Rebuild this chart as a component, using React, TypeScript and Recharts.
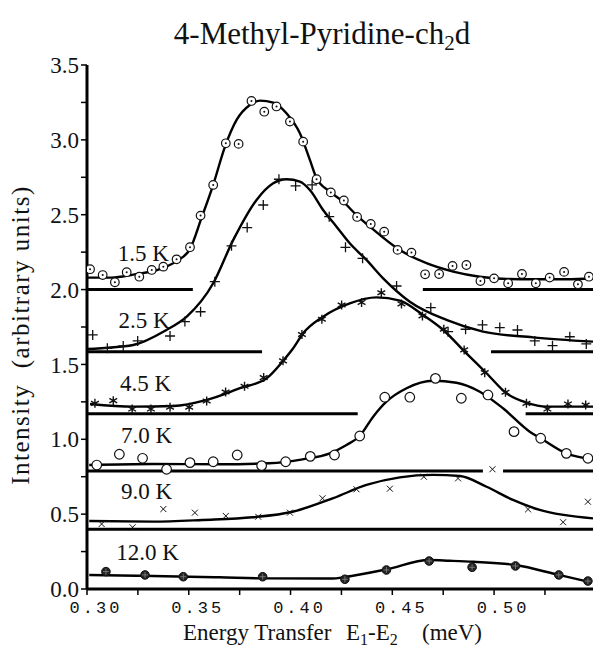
import React from "react";
import {
  ComposedChart,
  Line,
  Scatter,
  XAxis,
  YAxis,
  ReferenceLine,
  ReferenceDot,
} from "recharts";

type P = [number, number];

// measured points [energy transfer meV, intensity], one list per temperature
const pts15: P[] = [
  [0.3015, 2.136], [0.3077, 2.097], [0.3137, 2.049], [0.3195, 2.116], [0.3257, 2.086],
  [0.3318, 2.131], [0.3375, 2.153], [0.344, 2.202], [0.3506, 2.283], [0.3558, 2.494],
  [0.362, 2.699], [0.3682, 2.977], [0.3745, 2.973], [0.3808, 3.26], [0.3871, 3.188],
  [0.3931, 3.223], [0.3997, 3.122], [0.4062, 2.988], [0.4128, 2.737], [0.4198, 2.649],
  [0.4262, 2.595], [0.4327, 2.485], [0.4394, 2.438], [0.446, 2.387], [0.4526, 2.265],
  [0.4594, 2.247], [0.4661, 2.102], [0.473, 2.104], [0.4796, 2.158], [0.4864, 2.164],
  [0.4933, 2.057], [0.5, 2.075], [0.5069, 2.042], [0.5137, 2.104], [0.5205, 2.042],
  [0.5273, 2.08], [0.5344, 2.118], [0.5412, 2.035], [0.5466, 2.086],
];
const pts25: P[] = [
  [0.3028, 1.697], [0.31, 1.608], [0.3178, 1.623], [0.3249, 1.657], [0.3408, 1.69],
  [0.3481, 1.786], [0.3558, 1.852], [0.3628, 2.053], [0.371, 2.292], [0.3787, 2.414],
  [0.3866, 2.565], [0.3943, 2.737], [0.4025, 2.692], [0.4106, 2.699], [0.419, 2.487],
  [0.427, 2.282], [0.4354, 2.209], [0.4521, 2.024], [0.4689, 1.879], [0.4774, 1.719],
  [0.486, 1.735], [0.4943, 1.764], [0.5028, 1.746], [0.5115, 1.73], [0.52, 1.657],
  [0.5287, 1.625], [0.5372, 1.685], [0.5453, 1.637],
];
const pts45: P[] = [
  [0.3039, 1.24], [0.3129, 1.258], [0.3222, 1.202], [0.3314, 1.202], [0.3408, 1.214],
  [0.3502, 1.214], [0.3588, 1.256], [0.3681, 1.316], [0.3774, 1.354], [0.3868, 1.412],
  [0.3963, 1.524], [0.4056, 1.7], [0.4154, 1.802], [0.4251, 1.897], [0.4349, 1.914],
  [0.4446, 1.979], [0.4545, 1.904], [0.4648, 1.824], [0.4753, 1.735], [0.4853, 1.597],
  [0.4954, 1.445], [0.5056, 1.314], [0.5159, 1.24], [0.5262, 1.202], [0.5363, 1.236],
  [0.545, 1.229],
];
const pts70: P[] = [
  [0.3048, 0.828], [0.3159, 0.9], [0.3273, 0.873], [0.3391, 0.8], [0.3506, 0.844],
  [0.362, 0.85], [0.3738, 0.895], [0.3858, 0.824], [0.3976, 0.85], [0.4097, 0.886],
  [0.4216, 0.895], [0.434, 1.022], [0.4463, 1.281], [0.4586, 1.281], [0.4712, 1.407],
  [0.4839, 1.274], [0.497, 1.296], [0.5098, 1.051], [0.5229, 1.007], [0.5355, 0.906],
  [0.5461, 0.873],
];
const pts90: P[] = [
  [0.3072, 0.434], [0.3224, 0.412], [0.3375, 0.534], [0.353, 0.51], [0.3682, 0.488],
  [0.3841, 0.483], [0.3997, 0.51], [0.4157, 0.606], [0.4324, 0.666], [0.4488, 0.67],
  [0.4655, 0.75], [0.4823, 0.739], [0.4992, 0.8], [0.5167, 0.532], [0.5339, 0.446],
  [0.5461, 0.583],
];
const pts120: P[] = [
  [0.3093, 0.116], [0.3285, 0.094], [0.3473, 0.082], [0.3863, 0.082], [0.4267, 0.065],
  [0.4471, 0.127], [0.4681, 0.187], [0.4892, 0.145], [0.5105, 0.154], [0.5318, 0.094],
  [0.5461, 0.053],
];

// fitted curves
const fit15: P[] = [
  [0.3, 2.08], [0.312, 2.08], [0.3227, 2.1], [0.3358, 2.136], [0.344, 2.19], [0.3506, 2.27],
  [0.3563, 2.48], [0.362, 2.7], [0.3678, 2.955], [0.3735, 3.133], [0.38, 3.233],
  [0.385, 3.262], [0.3915, 3.249], [0.398, 3.178], [0.4046, 3.044], [0.4095, 2.866],
  [0.4128, 2.743], [0.4193, 2.654], [0.4258, 2.587], [0.4324, 2.498], [0.439, 2.42],
  [0.4537, 2.264], [0.4668, 2.176], [0.4799, 2.12], [0.493, 2.086], [0.5061, 2.071],
  [0.5191, 2.069], [0.5355, 2.069], [0.5486, 2.076],
];
const fit25: P[] = [
  [0.3, 1.603], [0.3227, 1.63], [0.339, 1.73], [0.349, 1.819], [0.362, 2.042],
  [0.3718, 2.33], [0.3833, 2.599], [0.3915, 2.71], [0.398, 2.737], [0.4046, 2.721],
  [0.4095, 2.665], [0.416, 2.532], [0.4226, 2.42], [0.4291, 2.309], [0.4373, 2.198],
  [0.4455, 2.075], [0.4586, 1.919], [0.4766, 1.797], [0.4946, 1.719], [0.5191, 1.681],
  [0.5486, 1.652],
];
const fit45: P[] = [
  [0.3015, 1.236], [0.3227, 1.218], [0.3424, 1.222], [0.3588, 1.263], [0.3751, 1.341],
  [0.3882, 1.407], [0.3964, 1.525], [0.4013, 1.608], [0.4062, 1.708], [0.416, 1.819],
  [0.4291, 1.908], [0.4422, 1.948], [0.4537, 1.926], [0.4651, 1.83], [0.475, 1.73],
  [0.4864, 1.574], [0.4963, 1.441], [0.5061, 1.307], [0.5159, 1.245], [0.5257, 1.218],
  [0.5486, 1.218],
];
const fit70: P[] = [
  [0.3011, 0.828], [0.3323, 0.835], [0.365, 0.833], [0.3895, 0.84], [0.4059, 0.866],
  [0.4193, 0.906], [0.4275, 0.962], [0.434, 1.022], [0.4406, 1.151], [0.4471, 1.251],
  [0.457, 1.341], [0.47, 1.391], [0.4815, 1.378], [0.493, 1.318], [0.5044, 1.207],
  [0.5175, 1.051], [0.5229, 1.007], [0.5355, 0.906], [0.5486, 0.866],
];
const fit90: P[] = [
  [0.3011, 0.454], [0.3323, 0.45], [0.3568, 0.461], [0.3814, 0.479], [0.401, 0.516],
  [0.421, 0.607], [0.4373, 0.695], [0.4537, 0.746], [0.47, 0.762], [0.4832, 0.755],
  [0.4963, 0.683], [0.5093, 0.595], [0.5224, 0.528], [0.5486, 0.472],
];
const fit120: P[] = [
  [0.3011, 0.094], [0.3323, 0.087], [0.365, 0.078], [0.3887, 0.071], [0.4206, 0.07],
  [0.4267, 0.08], [0.4471, 0.131], [0.4681, 0.194], [0.4782, 0.189], [0.4897, 0.182],
  [0.5105, 0.16], [0.5318, 0.094], [0.5461, 0.049],
];

// zero-intensity baseline of each shifted spectrum, drawn in pieces
const baseLevels = [2.0, 1.585, 1.17, 0.788, 0.399];
const baseSpans: P[][] = [
  [[0.3, 0.352], [0.465, 0.5486]],
  [[0.3, 0.386], [0.4985, 0.5486]],
  [[0.3, 0.433], [0.5155, 0.5486]],
  [[0.3, 0.4945], [0.5044, 0.5486]],
  [[0.3, 0.5486]],
];

const temps = ["1.5 K", "2.5 K", "4.5 K", "7.0 K", "9.0 K", "12.0 K"];
const tempAnchorX = [0.3277, 0.328, 0.3288, 0.3293, 0.3293, 0.3297];
const tempAnchorY = [2.245, 1.797, 1.378, 1.029, 0.657, 0.245];

const xTicks = [0.3, 0.325, 0.35, 0.375, 0.4, 0.425, 0.45, 0.475, 0.5, 0.525];
const xTickLabels = ["0.30", "0.35", "0.40", "0.45", "0.50"];
const yTicks = [0, 0.25, 0.5, 0.75, 1, 1.25, 1.5, 1.75, 2, 2.25, 2.5, 2.75, 3, 3.25, 3.5];
const yTickLabels = ["0.0", "0.5", "1.0", "1.5", "2.0", "2.5", "3.0", "3.5"];

const serif = "'Liberation Serif', 'Times New Roman', serif";
const mono = "'Liberation Mono', 'DejaVu Sans Mono', monospace";
const ink = "#111";

const toXY = (a: P[]) => a.map(([x, y]) => ({ x, y }));

const DotCircle = ({ cx, cy }: any) => (
  <g>
    <circle cx={cx} cy={cy} r={4.3} fill="#fff" stroke={ink} strokeWidth={1.2} />
    <circle cx={cx} cy={cy} r={1} fill={ink} />
  </g>
);
const PlusMark = ({ cx, cy }: any) => (
  <path d={`M${cx - 5},${cy}H${cx + 5}M${cx},${cy - 5}V${cy + 5}`} stroke={ink} strokeWidth={1.3} />
);
const StarMark = ({ cx, cy }: any) => (
  <path
    d={`M${cx},${cy - 4.5}V${cy + 4.5}M${cx - 3.9},${cy - 2.2}L${cx + 3.9},${cy + 2.2}M${cx - 3.9},${cy + 2.2}L${cx + 3.9},${cy - 2.2}`}
    stroke={ink}
    strokeWidth={1.4}
  />
);
const OpenCircle = ({ cx, cy }: any) => (
  <circle cx={cx} cy={cy} r={4.8} fill="#fff" stroke={ink} strokeWidth={1.2} />
);
const CrossMark = ({ cx, cy }: any) => (
  <path d={`M${cx - 3},${cy - 3}L${cx + 3},${cy + 3}M${cx - 3},${cy + 3}L${cx + 3},${cy - 3}`} stroke={ink} strokeWidth={1} />
);
const FilledCross = ({ cx, cy }: any) => (
  <g>
    <circle cx={cx} cy={cy} r={4.3} fill="#222" stroke={ink} strokeWidth={1} />
    <path d={`M${cx - 3},${cy}H${cx + 3}M${cx},${cy - 3}V${cy + 3}`} stroke="#888" strokeWidth={0.8} />
  </g>
);

const series = [
  { pts: pts15, fit: fit15, shape: DotCircle },
  { pts: pts25, fit: fit25, shape: PlusMark },
  { pts: pts45, fit: fit45, shape: StarMark },
  { pts: pts70, fit: fit70, shape: OpenCircle },
  { pts: pts90, fit: fit90, shape: CrossMark },
  { pts: pts120, fit: fit120, shape: FilledCross },
];

const XTick = (p: any) => {
  const s = Number(p.payload.value).toFixed(2);
  if (!xTickLabels.includes(s)) return null;
  return (
    <text x={p.x + 9} y={p.y + 16} textAnchor="middle" fontFamily={mono} fontSize={17} letterSpacing={3} fill={ink}>
      {s}
    </text>
  );
};

const yFmt = (v: number) => {
  const s = v.toFixed(1);
  return Math.abs(v * 2 - Math.round(v * 2)) < 1e-6 && yTickLabels.includes(s) ? s : "";
};

const axisLine = { stroke: "#000", strokeWidth: 3 };
const tickLine = { stroke: "#000", strokeWidth: 1.5 };
const domainX: [number, number] = [0.3, 0.5486];
const domainY: [number, number] = [0, 3.5];

export default function App() {
  return (
    <div style={{ position: "absolute", left: 0, top: 0, width: 600, height: 656, background: "#fff" }}>
      <ComposedChart width={600} height={656} margin={{ top: 65, right: 7, bottom: 37, left: 0 }}>
        <XAxis
          dataKey="x"
          type="number"
          domain={domainX}
          allowDataOverflow
          ticks={xTicks}
          tick={<XTick />}
          tickSize={6}
          height={30}
          axisLine={axisLine}
          tickLine={tickLine}
        />
        <XAxis
          xAxisId="top"
          orientation="top"
          type="number"
          domain={domainX}
          allowDataOverflow
          ticks={xTicks}
          tick={false}
          tickSize={6}
          height={0}
          axisLine={axisLine}
          tickLine={tickLine}
        />
        <YAxis
          dataKey="y"
          type="number"
          domain={domainY}
          allowDataOverflow
          ticks={yTicks}
          tickFormatter={yFmt}
          tickSize={6}
          width={87}
          axisLine={axisLine}
          tickLine={tickLine}
          tick={{ fill: ink, fontFamily: serif, fontSize: 23 }}
        />
        <YAxis
          yAxisId="right"
          orientation="right"
          type="number"
          domain={domainY}
          allowDataOverflow
          ticks={yTicks}
          tick={false}
          mirror
          tickSize={6}
          width={0}
          axisLine={axisLine}
          tickLine={tickLine}
        />
        {baseLevels.map((lvl, i) =>
          baseSpans[i].map(([a, b], j) => (
            <ReferenceLine
              key={`b${i}-${j}`}
              segment={[{ x: a, y: lvl }, { x: b, y: lvl }]}
              stroke="#000"
              strokeWidth={3}
            />
          ))
        )}
        {series.map((s, i) => (
          <Line
            key={`f${i}`}
            data={toXY(s.fit)}
            dataKey="y"
            type="monotone"
            stroke="#000"
            strokeWidth={2.4}
            dot={false}
            isAnimationActive={false}
          />
        ))}
        {series.map((s, i) => {
          const Shape = s.shape;
          return (
            <Scatter
              key={`p${i}`}
              data={toXY(s.pts)}
              dataKey="y"
              shape={(p: any) => <Shape cx={p.cx} cy={p.cy} />}
              isAnimationActive={false}
            />
          );
        })}
        {temps.map((t, i) => (
          <ReferenceDot
            key={t}
            x={tempAnchorX[i]}
            y={tempAnchorY[i]}
            r={1}
            fill="none"
            stroke="none"
            label={{ value: t, position: "center", fill: ink, fontFamily: serif, fontSize: 23 }}
          />
        ))}
      </ComposedChart>
      <svg width={600} height={656} style={{ position: "absolute", left: 0, top: 0, pointerEvents: "none" }}>
        <text x={322} y={44} textAnchor="middle" fontFamily={serif} fontSize={31} fill={ink}>
          4-Methyl-Pyridine-ch
          <tspan dy={6} fontSize={21}>2</tspan>
          <tspan dy={-6}>d</tspan>
        </text>
        <g fontFamily={serif} fontSize={23} fill={ink}>
          <text x={183} y={640}>Energy Transfer</text>
          <text x={346} y={640}>
            E<tspan dy={5} fontSize={16}>1</tspan>
            <tspan dy={-5}>-E</tspan>
            <tspan dy={5} fontSize={16}>2</tspan>
          </text>
          <text x={422} y={640}>(meV)</text>
        </g>
        <text
          transform="translate(29,335) rotate(-90)"
          textAnchor="middle"
          fontFamily={serif}
          fontSize={25}
          letterSpacing={1.5}
          fill={ink}
          style={{ whiteSpace: "pre" }}
        >
          {"Intensity  (arbitrary units)"}
        </text>
      </svg>
    </div>
  );
}
